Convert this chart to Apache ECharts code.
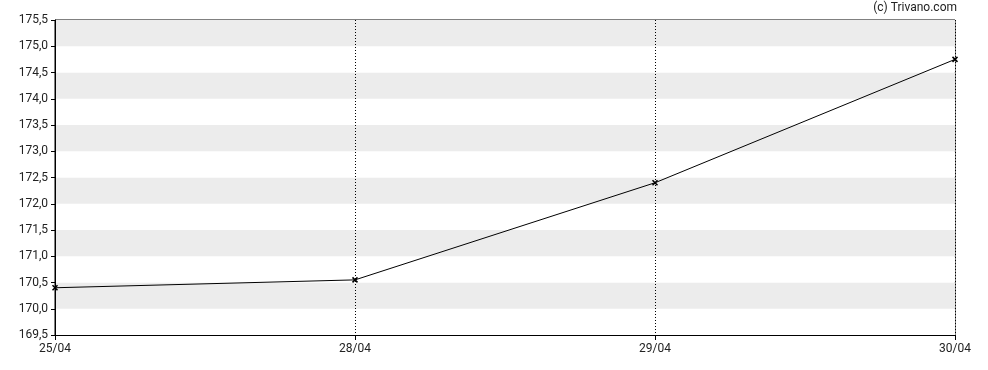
<!DOCTYPE html>
<html><head><meta charset="utf-8">
<script src="https://cdn.jsdelivr.net/npm/echarts@6/dist/echarts.min.js"></script>
<style>html,body{margin:0;padding:0;background:#fff}#c{width:988px;height:370px}</style>
</head><body><div id="c"></div>
<script>
const categories = ['25/04', '28/04', '29/04', '30/04'];
const prices = [170.4, 170.55, 172.4, 174.75];
const yMin = 169.5, yMax = 175.5, yStep = 0.5;

const chart = echarts.init(document.getElementById('c'), null, {renderer: 'canvas'});
const xPath = 'path://M0,0 L10,10 M10,0 L0,10';
chart.setOption({
  animation: false,
  backgroundColor: '#fff',
  textStyle: {fontFamily: 'Roboto'},
  graphic: [{
    type: 'text', right: 31, top: 2,
    style: {text: '(c) Trivano.com', font: '12px Roboto', fill: '#222'}
  }],
  grid: {left: 55, right: 33, top: 20, bottom: 35, show: true, borderColor: '#000', borderWidth: 1, backgroundColor: 'transparent'},
  xAxis: {
    type: 'category', data: categories, boundaryGap: false,
    axisLine: {lineStyle: {color: '#000', width: 1}},
    axisTick: {show: true, length: 5, lineStyle: {color: '#000'}},
    axisLabel: {color: '#222', fontSize: 12, margin: 8, fontFamily: 'Roboto'},
    splitLine: {show: true, lineStyle: {color: '#000', type: [1, 2], width: 1}}
  },
  yAxis: {
    type: 'value', min: yMin, max: yMax, interval: yStep,
    axisLine: {show: true, lineStyle: {color: '#000'}},
    axisTick: {show: true, length: 4, lineStyle: {color: '#000'}},
    axisLabel: {color: '#222', fontSize: 12, margin: 7, fontFamily: 'Roboto',
      formatter: v => v.toFixed(1).replace('.', ',')},
    splitLine: {show: false},
    splitArea: {show: true, areaStyle: {color: ['#ffffff', '#ececec']}}
  },
  series: [{
    type: 'line', data: prices,
    lineStyle: {color: '#000', width: 1},
    itemStyle: {color: '#000', borderColor: '#000', borderWidth: 1.5},
    symbol: xPath, symbolSize: 5, showAllSymbol: true
  }]
});
</script></body></html>
